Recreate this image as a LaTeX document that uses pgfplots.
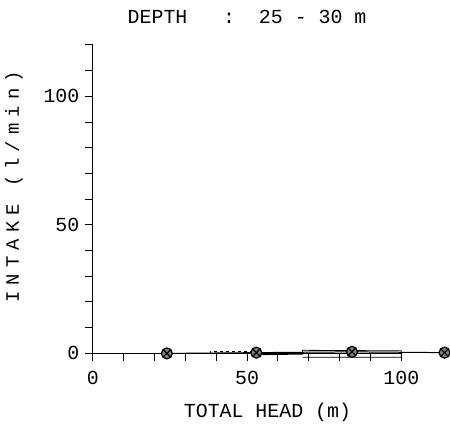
\documentclass[border=0pt]{standalone}
\usepackage{pgfplots}
\pgfplotsset{compat=1.18}
\usepackage{fontspec}
\setmainfont{Liberation Mono}
\newfontfamily\spaced[LetterSpace=32]{Liberation Mono}
\begin{document}
\begin{tikzpicture}[x=1bp,y=1bp]
\begin{axis}[
  name=a,
  scale only axis,
  width=309bp, height=309bp,
  xmin=0, xmax=100, ymin=0, ymax=120,
  clip=false,
  axis x line=bottom, axis y line=left,
  axis line style={-, line width=1.2pt},
  xtick={0,50,100}, ytick={0,50,100},
  minor xtick={10,20,30,40,60,70,80,90},
  minor ytick={10,20,30,40,60,70,80,90,110,120},
  tick align=outside,
  major tick length=8bp, minor tick length=8bp,
  tick style={line width=1pt, black},
  every tick label/.append style={font=\fontsize{20}{22}\selectfont},
  /pgf/number format/assume math mode=true,
  xticklabel style={yshift=-6bp},
  yticklabel style={xshift=-2bp},
  title={DEPTH\ \ \ :\ \ 25 - 30 m},
  title style={font=\fontsize{20}{22}\selectfont, at={(rel axis cs:0.5,1)}, yshift=12bp, anchor=south},
  xlabel={TOTAL HEAD (m)},
  xlabel style={font=\fontsize{20}{22}\selectfont, at={(rel axis cs:0.566,0)}, anchor=north, yshift=-46bp},
  ylabel={\spaced INTAKE (l/min)},
  ylabel style={font=\fontsize{19}{22}\selectfont, at={(rel axis cs:-0.256,0.54)}, anchor=center, rotate=0},
]
\addplot[black, line width=1pt] coordinates {(0,0) (24,0)};
\addplot[black, line width=1pt, mark=otimes*, mark size=5.5bp, mark options={fill=gray, line width=1.2pt}]
  coordinates {(24,0) (53,0.3) (84,0.6) (114,0.3)};
\addplot[black, line width=0.8pt, dashed]
  coordinates {(38,0) (38,0.8) (54,0.8) (54,0)};
\addplot[black, line width=0.8pt]
  coordinates {(54,-0.5) (68,-0.3) (68,1.2) (100,1.0) (100,-1.5) (68,-1.5)};
\end{axis}
\path[use as bounding box] ([shift={(-93bp,-83bp)}]a.south west) rectangle ([shift={(357bp,354bp)}]a.south west);
\end{tikzpicture}
\end{document}
